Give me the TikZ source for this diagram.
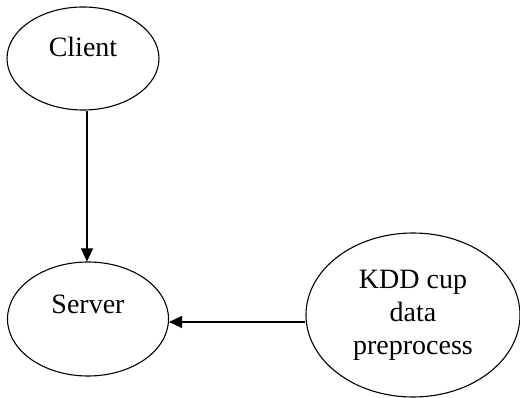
\documentclass[tikz,border=0pt]{standalone}
\usepackage{fontspec}
\setmainfont{Liberation Serif}
\usetikzlibrary{shapes.geometric,arrows.meta}
\begin{document}
\begin{tikzpicture}[x=1pt,y=-1pt,
  bubble/.style={ellipse,draw,line width=1.1pt,inner sep=0pt,align=center,
    font=\fontsize{28}{33}\selectfont},
  arr/.style={line width=1.1pt,-{Triangle[length=13pt,width=12pt]}}]
\useasboundingbox[fill=white] (0,0) rectangle (520,398);

\node[bubble,minimum width=152pt,minimum height=103pt,
      text height=20pt,text depth=23pt] (client) at (83,58.5) {Client};
\node[bubble,minimum width=161pt,minimum height=114pt,
      text height=20pt,text depth=31pt] (server) at (88,319) {Server};
\node[bubble,minimum width=214pt,minimum height=164pt] (kdd) at (413,315)
      {KDD cup\\data\\preprocess};

\coordinate (down) at ([xshift=4pt]client.south);
\draw[arr] (down) -- (down |- server.north);
\coordinate (left) at ([yshift=-3pt]server.east);
\draw[arr] (kdd.west |- left) -- (left);
\end{tikzpicture}
\end{document}
